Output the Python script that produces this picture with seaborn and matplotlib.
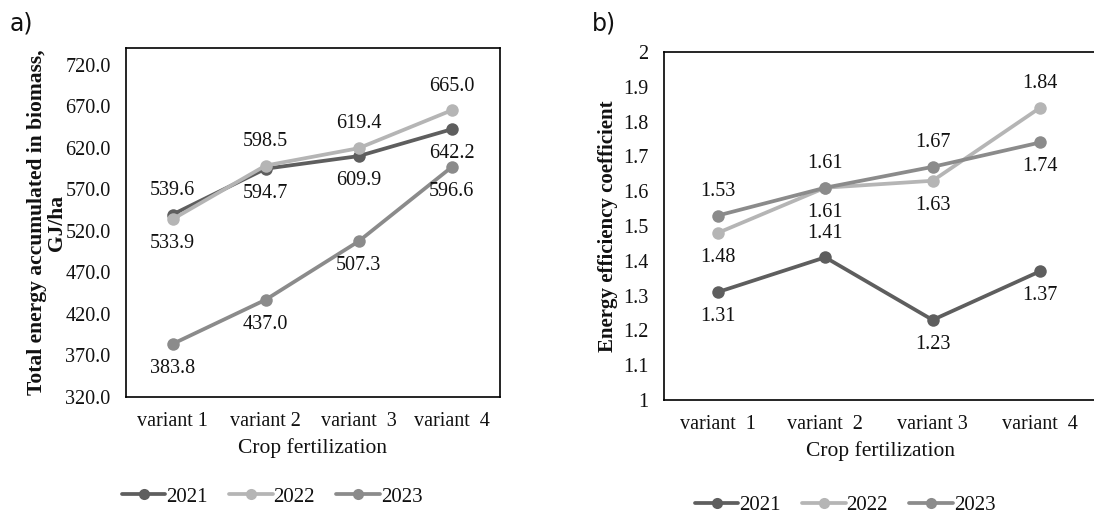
import numpy as np
import pandas as pd
import matplotlib
matplotlib.use("Agg")
import matplotlib.pyplot as plt
import seaborn as sns
from matplotlib.lines import Line2D

sns.set_theme(style="white")
plt.rcParams["font.family"] = ["Liberation Serif", "DejaVu Serif"]

# Data
years = ["2021", "2022", "2023"]
variants_a = ["variant 1", "variant 2", "variant  3", "variant  4"]
variants_b = ["variant  1", "variant  2", "variant 3", "variant  4"]

energy_2021 = [539.6, 594.7, 609.9, 642.2]
energy_2022 = [533.9, 598.5, 619.4, 665.0]
energy_2023 = [383.8, 437.0, 507.3, 596.6]

coef_2021 = [1.31, 1.41, 1.23, 1.37]
coef_2022 = [1.48, 1.61, 1.63, 1.84]
coef_2023 = [1.53, 1.61, 1.67, 1.74]

# label placement: +1 above the point, -1 below
pos_energy = {"2021": [1, -1, -1, -1], "2022": [-1, 1, 1, 1], "2023": [-1, -1, -1, -1]}
pos_coef = {"2021": [-1, 1, -1, -1], "2022": [-1, -1, -1, 1], "2023": [1, 1, 1, -1]}

palette = {"2021": "#5e5e5e", "2022": "#b5b5b5", "2023": "#8b8b8b"}


def long_frame(series):
    rows = []
    for yr, vals in zip(years, series):
        for i, v in enumerate(vals):
            rows.append({"x": i, "value": v, "year": yr})
    return pd.DataFrame(rows)


df_a = long_frame([energy_2021, energy_2022, energy_2023])
df_b = long_frame([coef_2021, coef_2022, coef_2023])

fig = plt.figure(figsize=(10.94, 5.15), dpi=100)
W, H = 1094, 515
ax_a = fig.add_axes([126 / W, 1 - 397 / H, 374 / W, 349 / H])
ax_b = fig.add_axes([664 / W, 1 - 400 / H, 432 / W, 348 / H])


def draw(ax, df, positions, fmt, offset):
    sns.lineplot(data=df, x="x", y="value", hue="year", palette=palette,
                 marker="o", markersize=9, markeredgewidth=0, linewidth=2.7,
                 legend=False, ax=ax)
    for yr in years:
        sub = df[df["year"] == yr]
        for (_, r), p in zip(sub.iterrows(), positions[yr]):
            ax.annotate(fmt.format(r["value"]), (r["x"], r["value"]),
                        xytext=(0, p * offset), textcoords="offset points",
                        ha="center", va="center", fontsize=14.5, color="#111111")
    for s in ax.spines.values():
        s.set_visible(True)
        s.set_color("black")
        s.set_linewidth(1.2)
    ax.tick_params(axis="both", length=0, labelsize=14.5, colors="#111111")
    ax.tick_params(axis="y", pad=11)
    ax.tick_params(axis="x", pad=11)
    ax.set_xlabel("Crop fertilization", fontsize=15.5, color="#111111", labelpad=5)


draw(ax_a, df_a, pos_energy, "{:.1f}", 17.5)
ax_a.set_xlim(-0.5, 3.52)
ax_a.set_ylim(320, 740)
ax_a.set_yticks(np.arange(320, 721, 50))
ax_a.set_yticklabels([f"{v:.1f}" for v in np.arange(320, 721, 50)])
ax_a.set_xticks(range(4))
ax_a.set_xticklabels(variants_a)
ax_a.set_ylabel("Total energy accumulated in biomass,\nGJ/ha", fontsize=15.5,
                fontweight="bold", color="#111111", labelpad=-1, linespacing=1.0)

draw(ax_b, df_b, pos_coef, "{:.2f}", 17.5)
ax_b.set_xlim(-0.5, 3.52)
ax_b.set_ylim(1, 2)
ticks_b = np.round(np.arange(1.0, 2.01, 0.1), 1)
ax_b.set_yticks(ticks_b)
ax_b.set_yticklabels([f"{v:g}" for v in ticks_b])
ax_b.set_xticks(range(4))
ax_b.set_xticklabels(variants_b)
ax_b.set_ylabel("Energy efficiency coefficient", fontsize=15,
                fontweight="bold", color="#111111", labelpad=4)

# Panel tags
fig.text(10 / W, 1 - 23 / H, "a)", fontsize=17, family="DejaVu Sans",
         va="center", ha="left", color="#111111")
fig.text(592 / W, 1 - 23 / H, "b)", fontsize=17, family="DejaVu Sans",
         va="center", ha="left", color="#111111")

handles = [Line2D([], [], color=palette[y], marker="o", markersize=8,
                  markeredgewidth=0, linewidth=2.7, label=y) for y in years]
for cx, cy in [(272 / W, 1 - 497 / H), (845 / W, 1 - 505 / H)]:
    fig.legend(handles=handles, loc="center", bbox_to_anchor=(cx, cy), ncol=3,
               frameon=False, fontsize=15, handlelength=2.1, handletextpad=0.05,
               columnspacing=1.0, labelcolor="#111111")

fig.savefig("out.png", dpi=100, facecolor="white")
